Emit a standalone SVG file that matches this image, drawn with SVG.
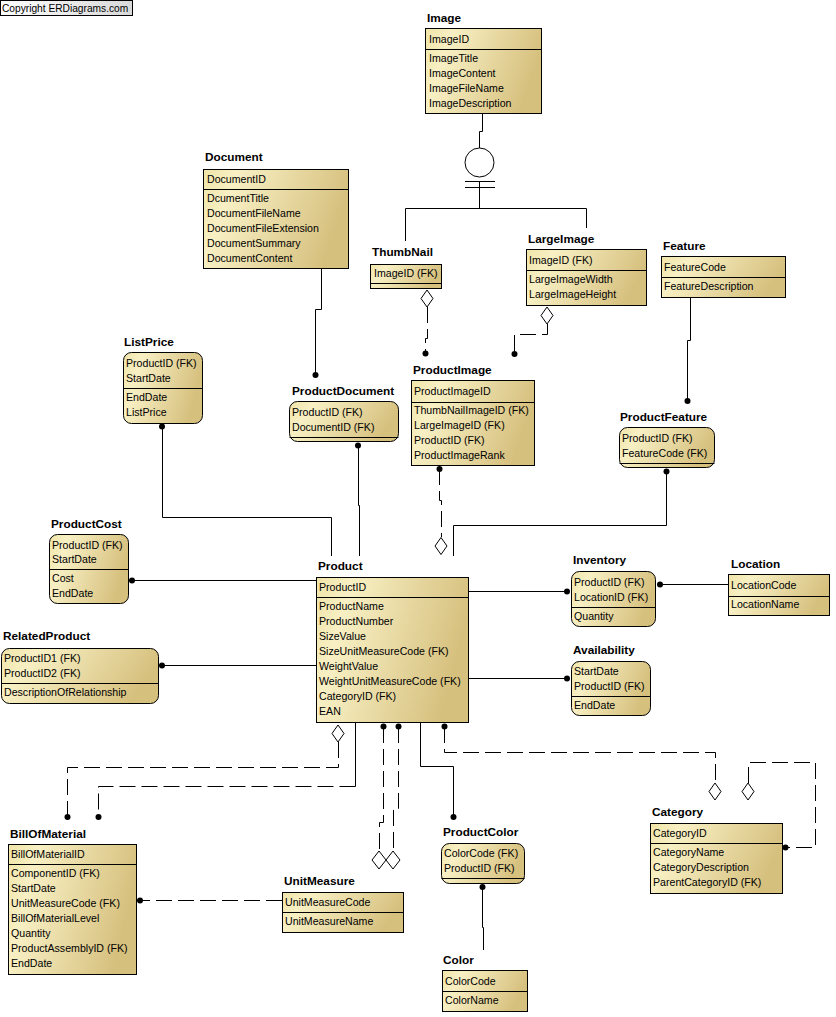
<svg xmlns="http://www.w3.org/2000/svg" xmlns:xlink="http://www.w3.org/1999/xlink" width="836" height="1017" viewBox="0 0 836 1017">
<defs>
<linearGradient id="g" x1="0" y1="0" x2="1" y2="0.25">
<stop offset="0" stop-color="#f0e4a8"/>
<stop offset="0.22" stop-color="#f8f0c4"/>
<stop offset="1" stop-color="#d6c07e"/>
</linearGradient>
<linearGradient id="cg" x1="0" y1="0" x2="1" y2="0">
<stop offset="0" stop-color="#ffffff"/>
<stop offset="1" stop-color="#d8d8d8"/>
</linearGradient>
<path id="dm" d="M0,-8.5 L6,0 L0,8.5 L-6,0 Z" fill="#fff" stroke="#000" stroke-width="1"/>
<path id="dm2" d="M0,-9 L7,0 L0,9 L-7,0 Z" fill="#fff" stroke="#000" stroke-width="1"/>
</defs>
<style>
.box{fill:url(#g);stroke:#000;stroke-width:1}
.sep{stroke:#000;stroke-width:1}
text{font-family:"Liberation Sans",Arial,sans-serif;font-size:10.6px;fill:#000}
.h{font-weight:bold;font-size:11.8px}
.ln{fill:none;stroke:#000;stroke-width:1}
.dl{stroke-dasharray:16 6}
.dot{fill:#000}
</style>
<rect width="836" height="1017" fill="#fff"/>

<g id="copyright">
<rect x="0.5" y="0.5" width="132" height="15" fill="url(#cg)" stroke="#000"/>
<text x="2" y="12" style="font-size:10.2px">Copyright ERDiagrams.com</text>
</g>

<g id="connectors">
<!-- Image subtype -->
<path class="ln" d="M482.5,114 V131.5 H479.5 V148"/>
<circle cx="479.5" cy="162.5" r="14.5" fill="#fff" stroke="#000"/>
<path class="ln" d="M465,181.5 H495 M465,187.5 H495 M479.5,181.5 V208.5 M405.5,208.5 H586.5 M405.5,208.5 V241 M586.5,208.5 V228"/>
<!-- Document -> ProductDocument -->
<path class="ln" d="M321.5,269 V309.5 H315.5 V373"/>
<circle class="dot" cx="315.5" cy="375" r="3"/>
<!-- ThumbNail -> ProductImage -->
<use xlink:href="#dm" x="427" y="298.5"/>
<path class="ln dl" d="M427.5,307 V338.5 H425.5 V351"/>
<circle class="dot" cx="425.5" cy="353.5" r="3"/>
<!-- LargeImage -> ProductImage -->
<use xlink:href="#dm" x="547" y="315.5"/>
<path class="ln dl" d="M547.5,324 V334.5 H514.5 V352"/>
<circle class="dot" cx="514.5" cy="354" r="3"/>
<!-- Feature -> ProductFeature -->
<path class="ln" d="M690.5,298 V340.5 H687.5 V399"/>
<circle class="dot" cx="687.5" cy="401" r="3"/>
<!-- ProductFeature -> Product -->
<circle class="dot" cx="666.5" cy="471.5" r="3"/>
<path class="ln" d="M666.5,472 V525.5 H453.5 V556"/>
<!-- ProductImage -> Product -->
<circle class="dot" cx="439.5" cy="469" r="3"/>
<path class="ln dl" d="M439.5,469 V500.5 H441.5 V537"/>
<use xlink:href="#dm" x="441" y="546"/>
<!-- ListPrice -> Product -->
<circle class="dot" cx="162" cy="426.5" r="3"/>
<path class="ln" d="M162.5,427 V517.5 H331.5 V556"/>
<!-- ProductDocument -> Product -->
<circle class="dot" cx="358" cy="445.5" r="3"/>
<path class="ln" d="M358.5,446 V505.5 H359.5 V556"/>
<!-- ProductCost -> Product -->
<circle class="dot" cx="132" cy="580.5" r="3"/>
<path class="ln" d="M132,580.5 H316"/>
<!-- RelatedProduct -> Product -->
<circle class="dot" cx="162" cy="665.5" r="3"/>
<path class="ln" d="M162,665.5 H316"/>
<!-- Product -> Inventory -->
<path class="ln" d="M468,591.5 H567"/>
<circle class="dot" cx="567" cy="591.5" r="3"/>
<!-- Location -> Inventory -->
<circle class="dot" cx="660" cy="584.5" r="3"/>
<path class="ln" d="M660,584.5 H728"/>
<!-- Product -> Availability -->
<path class="ln" d="M468,678.5 H567"/>
<circle class="dot" cx="567" cy="678.5" r="3"/>
<!-- Product -> BillOfMaterial (component) -->
<use xlink:href="#dm" x="338" y="733.5"/>
<path class="ln dl" d="M338.5,742 V767.5 H67.5 V815"/>
<circle class="dot" cx="67.5" cy="817" r="3"/>
<!-- Product -> BillOfMaterial (assembly) -->
<path class="ln" d="M355.5,722 V786.5"/>
<path class="ln dl" d="M355.5,786.5 H98.5 V815"/>
<circle class="dot" cx="98.5" cy="817" r="3"/>
<!-- UnitMeasure -> Product (size) -->
<circle class="dot" cx="383.5" cy="726.5" r="3"/>
<path class="ln dl" d="M383.5,727 V822.5 H379.5 V851"/>
<use xlink:href="#dm2" x="379" y="860"/>
<!-- UnitMeasure -> Product (weight) -->
<circle class="dot" cx="398.5" cy="726.5" r="3"/>
<path class="ln dl" d="M398.5,727 V808.5 H393.5 V851"/>
<use xlink:href="#dm2" x="393" y="860"/>
<!-- UnitMeasure -> BillOfMaterial -->
<circle class="dot" cx="140" cy="900.5" r="3"/>
<path class="ln dl" d="M282,900.5 H140"/>
<!-- Product -> ProductColor -->
<path class="ln" d="M420.5,722 V766.5 H453.5 V815"/>
<circle class="dot" cx="453.5" cy="817" r="3"/>
<!-- Color -> ProductColor -->
<circle class="dot" cx="482.5" cy="887" r="3"/>
<path class="ln" d="M482.5,887 V927.5 H483.5 V950"/>
<!-- Category -> Product -->
<circle class="dot" cx="444.5" cy="726.5" r="3"/>
<path class="ln dl" d="M444.5,727 V752.5 H715.5 V783"/>
<use xlink:href="#dm" x="715" y="791.5"/>
<!-- Category self -->
<use xlink:href="#dm" x="748" y="791.5"/>
<path class="ln dl" d="M748.5,783 V762.5 H815.5 V847.5 H786"/>
<circle class="dot" cx="785.5" cy="847.5" r="3"/>
</g>

<g id="Image">
<text class="h" x="427" y="22">Image</text>
<rect class="box" x="425.5" y="28.5" width="116" height="85"/>
<line class="sep" x1="425.5" y1="49.5" x2="541.5" y2="49.5"/>
<text x="429" y="43">ImageID</text>
<text x="429" y="62">ImageTitle</text>
<text x="429" y="77">ImageContent</text>
<text x="429" y="92">ImageFileName</text>
<text x="429" y="107">ImageDescription</text>
</g>

<g id="Document">
<text class="h" x="205" y="161">Document</text>
<rect class="box" x="203.5" y="169.5" width="145" height="99"/>
<line class="sep" x1="203.5" y1="189.5" x2="348.5" y2="189.5"/>
<text x="207" y="183">DocumentID</text>
<text x="207" y="202">DcumentTitle</text>
<text x="207" y="217">DocumentFileName</text>
<text x="207" y="232">DocumentFileExtension</text>
<text x="207" y="247">DocumentSummary</text>
<text x="207" y="262">DocumentContent</text>
</g>

<g id="ThumbNail">
<text class="h" x="372" y="255.5">ThumbNail</text>
<rect class="box" x="370.5" y="264.5" width="71" height="24"/>
<line class="sep" x1="370.5" y1="283.5" x2="441.5" y2="283.5"/>
<text x="374" y="277">ImageID (FK)</text>
</g>

<g id="LargeImage">
<text class="h" x="528" y="242.5">LargeImage</text>
<rect class="box" x="526.5" y="249.5" width="120" height="56"/>
<line class="sep" x1="526.5" y1="270.5" x2="646.5" y2="270.5"/>
<text x="529" y="264">ImageID (FK)</text>
<text x="529" y="283">LargeImageWidth</text>
<text x="529" y="298">LargeImageHeight</text>
</g>

<g id="Feature">
<text class="h" x="663" y="249.5">Feature</text>
<rect class="box" x="661.5" y="256.5" width="124" height="41"/>
<line class="sep" x1="661.5" y1="277.5" x2="785.5" y2="277.5"/>
<text x="664" y="271">FeatureCode</text>
<text x="664" y="290">FeatureDescription</text>
</g>

<g id="ListPrice">
<text class="h" x="124" y="345.5">ListPrice</text>
<rect class="box" x="123.5" y="352.5" width="79" height="71" rx="8"/>
<line class="sep" x1="123.5" y1="388.5" x2="202.5" y2="388.5"/>
<text x="126" y="367">ProductID (FK)</text>
<text x="126" y="382">StartDate</text>
<text x="126" y="401">EndDate</text>
<text x="126" y="416">ListPrice</text>
</g>

<g id="ProductDocument">
<text class="h" x="292" y="394.5">ProductDocument</text>
<rect class="box" x="289.5" y="401.5" width="109" height="40" rx="8"/>
<line class="sep" x1="289.5" y1="437.5" x2="398.5" y2="437.5"/>
<text x="292" y="416">ProductID (FK)</text>
<text x="292" y="431">DocumentID (FK)</text>
</g>

<g id="ProductImage">
<text class="h" x="413" y="374">ProductImage</text>
<rect class="box" x="411.5" y="380.5" width="123" height="85"/>
<line class="sep" x1="411.5" y1="402.5" x2="534.5" y2="402.5"/>
<text x="414" y="395">ProductImageID</text>
<text x="414" y="414">ThumbNailImageID (FK)</text>
<text x="414" y="429">LargeImageID (FK)</text>
<text x="414" y="444">ProductID (FK)</text>
<text x="414" y="459">ProductImageRank</text>
</g>

<g id="ProductFeature">
<text class="h" x="620" y="420.5">ProductFeature</text>
<rect class="box" x="619.5" y="427.5" width="95" height="40" rx="8"/>
<line class="sep" x1="619.5" y1="463.5" x2="714.5" y2="463.5"/>
<text x="622" y="442">ProductID (FK)</text>
<text x="622" y="457">FeatureCode (FK)</text>
</g>

<g id="ProductCost">
<text class="h" x="51" y="527.5">ProductCost</text>
<rect class="box" x="49.5" y="534.5" width="79" height="69" rx="8"/>
<line class="sep" x1="49.5" y1="569.5" x2="128.5" y2="569.5"/>
<text x="52" y="549">ProductID (FK)</text>
<text x="52" y="563">StartDate</text>
<text x="52" y="582">Cost</text>
<text x="52" y="597">EndDate</text>
</g>

<g id="RelatedProduct">
<text class="h" x="3" y="640">RelatedProduct</text>
<rect class="box" x="1.5" y="648.5" width="157" height="55" rx="8"/>
<line class="sep" x1="1.5" y1="683.5" x2="158.5" y2="683.5"/>
<text x="4" y="662">ProductID1 (FK)</text>
<text x="4" y="677">ProductID2 (FK)</text>
<text x="4" y="696">DescriptionOfRelationship</text>
</g>

<g id="Product">
<text class="h" x="318" y="569.5">Product</text>
<rect class="box" x="316.5" y="577.5" width="152" height="145"/>
<line class="sep" x1="316.5" y1="597.5" x2="468.5" y2="597.5"/>
<text x="319" y="591">ProductID</text>
<text x="319" y="610">ProductName</text>
<text x="319" y="625">ProductNumber</text>
<text x="319" y="640">SizeValue</text>
<text x="319" y="655">SizeUnitMeasureCode (FK)</text>
<text x="319" y="670">WeightValue</text>
<text x="319" y="685">WeightUnitMeasureCode (FK)</text>
<text x="319" y="700">CategoryID (FK)</text>
<text x="319" y="715">EAN</text>
</g>

<g id="Inventory">
<text class="h" x="573" y="564">Inventory</text>
<rect class="box" x="571.5" y="571.5" width="84" height="55" rx="8"/>
<line class="sep" x1="571.5" y1="607.5" x2="655.5" y2="607.5"/>
<text x="574" y="586">ProductID (FK)</text>
<text x="574" y="601">LocationID (FK)</text>
<text x="574" y="620">Quantity</text>
</g>

<g id="Location">
<text class="h" x="731" y="568">Location</text>
<rect class="box" x="728.5" y="574.5" width="101" height="41"/>
<line class="sep" x1="728.5" y1="596.5" x2="829.5" y2="596.5"/>
<text x="731" y="589">LocationCode</text>
<text x="731" y="608">LocationName</text>
</g>

<g id="Availability">
<text class="h" x="573" y="654">Availability</text>
<rect class="box" x="571.5" y="661.5" width="79" height="54" rx="8"/>
<line class="sep" x1="571.5" y1="696.5" x2="650.5" y2="696.5"/>
<text x="574" y="675">StartDate</text>
<text x="574" y="690">ProductID (FK)</text>
<text x="574" y="709">EndDate</text>
</g>

<g id="BillOfMaterial">
<text class="h" x="10" y="837.5">BillOfMaterial</text>
<rect class="box" x="8.5" y="844.5" width="128" height="130"/>
<line class="sep" x1="8.5" y1="864.5" x2="136.5" y2="864.5"/>
<text x="11" y="858">BillOfMaterialID</text>
<text x="11" y="877">ComponentID (FK)</text>
<text x="11" y="892">StartDate</text>
<text x="11" y="907">UnitMeasureCode (FK)</text>
<text x="11" y="922">BillOfMaterialLevel</text>
<text x="11" y="937">Quantity</text>
<text x="11" y="952">ProductAssemblyID (FK)</text>
<text x="11" y="967">EndDate</text>
</g>

<g id="UnitMeasure">
<text class="h" x="284" y="885">UnitMeasure</text>
<rect class="box" x="282.5" y="892.5" width="121" height="40"/>
<line class="sep" x1="282.5" y1="912.5" x2="403.5" y2="912.5"/>
<text x="285" y="906">UnitMeasureCode</text>
<text x="285" y="925">UnitMeasureName</text>
</g>

<g id="ProductColor">
<text class="h" x="443" y="836">ProductColor</text>
<rect class="box" x="441.5" y="843.5" width="83" height="40" rx="8"/>
<line class="sep" x1="441.5" y1="878.5" x2="524.5" y2="878.5"/>
<text x="444" y="857">ColorCode (FK)</text>
<text x="444" y="872">ProductID (FK)</text>
</g>

<g id="Category">
<text class="h" x="652" y="816">Category</text>
<rect class="box" x="650.5" y="823.5" width="132" height="70"/>
<line class="sep" x1="650.5" y1="843.5" x2="782.5" y2="843.5"/>
<text x="653" y="837">CategoryID</text>
<text x="653" y="856">CategoryName</text>
<text x="653" y="871">CategoryDescription</text>
<text x="653" y="886">ParentCategoryID (FK)</text>
</g>

<g id="Color">
<text class="h" x="443" y="963.5">Color</text>
<rect class="box" x="442.5" y="970.5" width="85" height="41"/>
<line class="sep" x1="442.5" y1="991.5" x2="527.5" y2="991.5"/>
<text x="445" y="985">ColorCode</text>
<text x="445" y="1004">ColorName</text>
</g>
</svg>
